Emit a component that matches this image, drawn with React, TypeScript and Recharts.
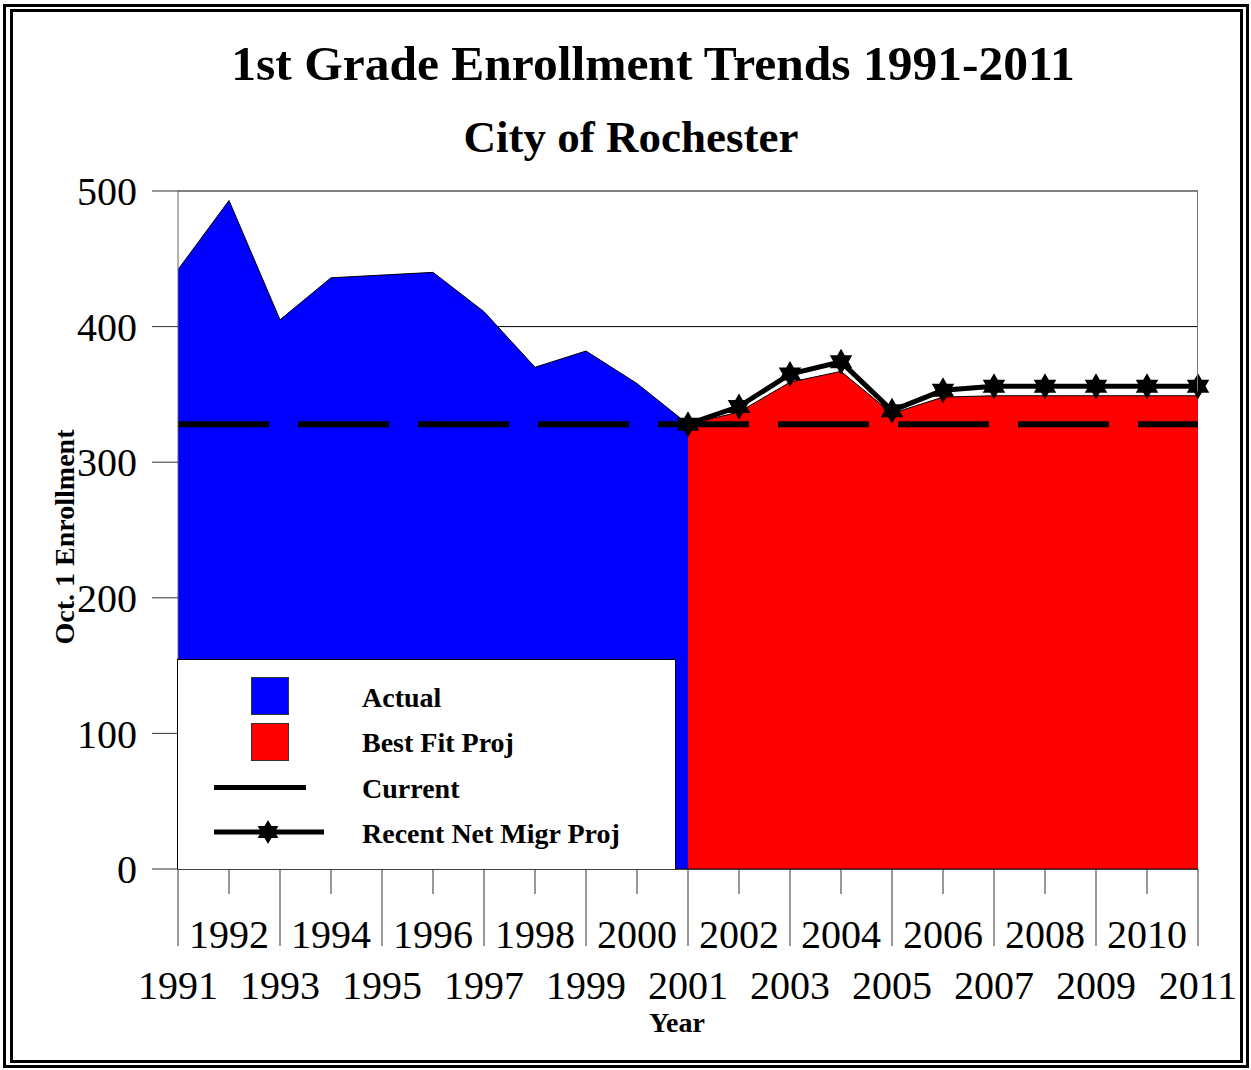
import React from "react";
import {
  ComposedChart,
  Area,
  Line,
  XAxis,
  YAxis,
  CartesianGrid,
} from "recharts";

// enrollment data
const years = [
  1991, 1992, 1993, 1994, 1995, 1996, 1997, 1998, 1999, 2000, 2001,
  2002, 2003, 2004, 2005, 2006, 2007, 2008, 2009, 2010, 2011,
];
const actual = [
  442, 493, 405, 436, 438, 440, 411, 370, 382, 358, 328,
  null, null, null, null, null, null, null, null, null, null,
];
const bestFitProj = [
  null, null, null, null, null, null, null, null, null, null, 328,
  337, 359, 367, 336, 348, 349, 349, 349, 349, 349,
];
const current = [
  328, 328, 328, 328, 328, 328, 328, 328, 328, 328, 328,
  328, 328, 328, 328, 328, 328, 328, 328, 328, 328,
];
const recentNetMigrProj = [
  null, null, null, null, null, null, null, null, null, null, 328,
  341, 365, 374, 338, 353, 356, 356, 356, 356, 356,
];
const yTicks = [0, 100, 200, 300, 400, 500];

const data = years.map((year, i) => ({
  year,
  actual: actual[i],
  bestFit: bestFitProj[i],
  current: current[i],
  recent: recentNetMigrProj[i],
}));

const FONT = "'Liberation Serif', 'Times New Roman', serif";

function starPoints(cx: number, cy: number, r: number) {
  const inner = r / Math.sqrt(3);
  const pts: string[] = [];
  for (let k = 0; k < 12; k++) {
    const rad = k % 2 === 0 ? r : inner;
    const a = (Math.PI / 6) * k - Math.PI / 2;
    pts.push(`${cx + rad * Math.cos(a)},${cy + rad * Math.sin(a)}`);
  }
  return pts.join(" ");
}

function StarDot(props: any) {
  const { cx, cy, index } = props;
  if (cx == null || cy == null) return <g key={`s${index}`} />;
  return <polygon key={`s${index}`} points={starPoints(cx, cy, 13)} fill="#000" />;
}

function YearTick(props: any) {
  const { x, y, payload } = props;
  const idx = payload.value - 1991;
  const upper = idx % 2 === 1;
  return (
    <g>
      <line x1={x} x2={x} y1={y} y2={y + (upper ? 25 : 77)} stroke="#333" strokeWidth={1} />
      <text
        x={x}
        y={y + (upper ? 79 : 130)}
        textAnchor="middle"
        fontFamily={FONT}
        fontSize={40}
        fill="#000"
      >
        {payload.value}
      </text>
    </g>
  );
}

function LegendBox() {
  const text = { fontFamily: FONT, fontSize: 28, fontWeight: 700, fill: "#000" };
  return (
    <svg
      width={499}
      height={210}
      style={{ position: "absolute", left: 177, top: 659 }}
    >
      <rect x={0.5} y={0.5} width={498} height={212} fill="#fff" stroke="#000" />
      <rect x={74.5} y={18.5} width={37} height={37} fill="#0000ff" stroke="#333" />
      <rect x={74.5} y={64.5} width={37} height={37} fill="#ff0000" stroke="#333" />
      <line x1={37} x2={129} y1={128.5} y2={128.5} stroke="#000" strokeWidth={5} />
      <line x1={37} x2={147} y1={173} y2={173} stroke="#000" strokeWidth={5} />
      <polygon points={starPoints(91, 173, 12)} fill="#000" />
      <text x={185} y={48} {...text}>Actual</text>
      <text x={185} y={93} {...text}>Best Fit Proj</text>
      <text x={185} y={139} {...text}>Current</text>
      <text x={185} y={184} {...text}>Recent Net Migr Proj</text>
    </svg>
  );
}

export default function App() {
  return (
    <div
      style={{
        position: "absolute",
        left: 0,
        top: 0,
        width: 1251,
        height: 1070,
        background: "#fff",
        overflow: "hidden",
      }}
    >
      <ComposedChart
        width={1251}
        height={1070}
        data={data}
        margin={{ top: 191, right: 53, bottom: 101, left: 78 }}
      >
        <CartesianGrid horizontal vertical={false} stroke="#000" />
        <XAxis
          type="number"
          dataKey="year"
          domain={[1991, 2011]}
          ticks={years}
          interval={0}
          height={100}
          tickSize={0}
          tickMargin={0}
          tickLine={false}
          axisLine={{ stroke: "#000" }}
          tick={<YearTick />}
        />
        <YAxis
          domain={[0, 500]}
          ticks={yTicks}
          width={100}
          tickSize={26}
          tickMargin={15}
          interval={0}
          axisLine={{ stroke: "#666" }}
          tickLine={{ stroke: "#333" }}
          tick={{ fontFamily: FONT, fontSize: 40, fill: "#000" }}
        />
        <Area
          type="linear"
          dataKey="actual"
          fill="#0000ff"
          fillOpacity={1}
          stroke="#000"
          strokeWidth={1}
          isAnimationActive={false}
          dot={false}
          activeDot={false}
        />
        <Area
          type="linear"
          dataKey="bestFit"
          fill="#ff0000"
          fillOpacity={1}
          stroke="#000"
          strokeWidth={1}
          isAnimationActive={false}
          dot={false}
          activeDot={false}
        />
        <Line
          type="linear"
          dataKey="current"
          stroke="#000"
          strokeWidth={6}
          strokeDasharray="91 29"
          dot={false}
          activeDot={false}
          isAnimationActive={false}
        />
        <Line
          type="linear"
          dataKey="recent"
          stroke="#000"
          strokeWidth={5}
          dot={<StarDot />}
          activeDot={false}
          isAnimationActive={false}
        />
      </ComposedChart>

      {/* right edge of plot frame */}
      <div
        style={{
          position: "absolute",
          left: 1197,
          top: 191,
          width: 1,
          height: 200,
          background: "#777",
        }}
      />

      <LegendBox />

      <svg
        width={1251}
        height={1070}
        style={{ position: "absolute", left: 0, top: 0, pointerEvents: "none" }}
      >
        <text x={653} y={80} textAnchor="middle" fontFamily={FONT} fontSize={49.5} fontWeight={700}>
          1st Grade Enrollment Trends 1991-2011
        </text>
        <text x={631} y={152} textAnchor="middle" fontFamily={FONT} fontSize={45} fontWeight={700}>
          City of Rochester
        </text>
        <text
          x={74}
          y={537}
          transform="rotate(-90 74 537)"
          textAnchor="middle"
          fontFamily={FONT}
          fontSize={28}
          fontWeight={700}
        >
          Oct. 1 Enrollment
        </text>
        <text x={677} y={1032} textAnchor="middle" fontFamily={FONT} fontSize={28} fontWeight={700}>
          Year
        </text>
      </svg>

      <div
        style={{
          position: "absolute",
          left: 3,
          top: 4,
          width: 1246,
          height: 1064,
          border: "3px solid #000",
          boxSizing: "border-box",
        }}
      />
      <div
        style={{
          position: "absolute",
          left: 10,
          top: 9,
          width: 1233,
          height: 1054,
          border: "3px solid #000",
          boxSizing: "border-box",
        }}
      />
    </div>
  );
}
